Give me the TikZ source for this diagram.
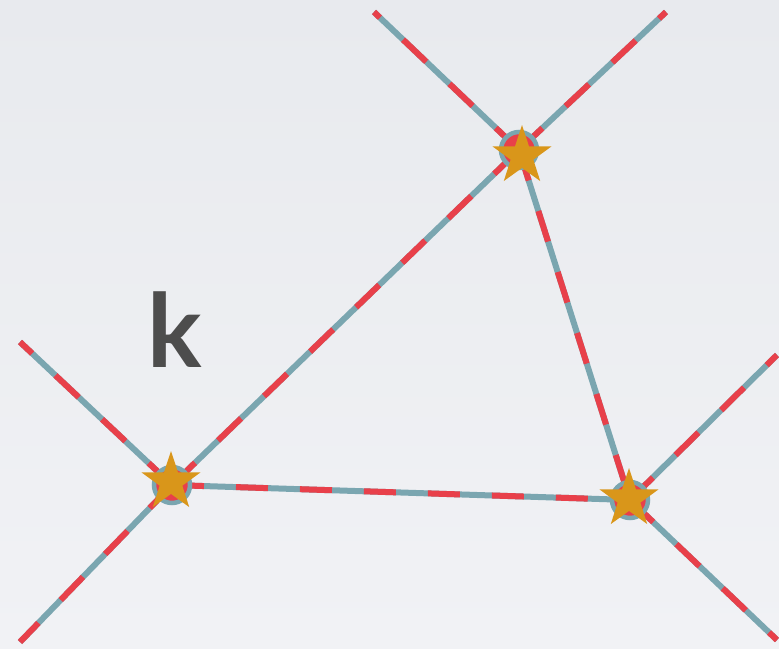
\documentclass[tikz,border=0pt]{standalone}
\usepackage{fontspec}
\setsansfont{Lato}
\usetikzlibrary{shapes.geometric}
\definecolor{edgered}{HTML}{E8404A}
\definecolor{edgeteal}{HTML}{7AA6B0}
\definecolor{starorange}{HTML}{D9961A}
\definecolor{labelgray}{HTML}{4D4D4D}
\definecolor{bgtop}{HTML}{E8EAEE}
\definecolor{bgbottom}{HTML}{F1F2F5}
\begin{document}
\begin{tikzpicture}[x=1pt,y=-1pt]

\tikzset{edgebase/.style={draw=edgeteal, line width=6pt}}
\tikzset{edgedash/.style={draw=edgered, line width=6pt, dash pattern=on 32pt off 32pt}}
\tikzset{vertex/.style={circle, fill=edgered, draw=edgeteal, line width=4.5pt, minimum size=36pt, inner sep=0pt}}
\tikzset{mystar/.style={star, star points=5, star point ratio=2.6, fill=starorange, minimum size=62pt, inner sep=0pt}}

\shade[top color=bgtop, bottom color=bgbottom] (0,0) rectangle (779,648);
\useasboundingbox (0,0) rectangle (779,648);

\coordinate (pa) at (172,485);
\coordinate (pb) at (519,150);
\coordinate (pc) at (630,500);
\coordinate (a1) at (20,342);
\coordinate (a2) at (20,642);
\coordinate (b1) at (374,12);
\coordinate (b2) at (666,12);
\coordinate (c1) at (777,355);
\coordinate (c2) at (777,640);

\foreach \s/\t in {pa/pb, pb/pc, pa/pc, pa/a1, pa/a2, pb/b1, pb/b2, pc/c1, pc/c2}{
  \draw[edgebase] (\s) -- (\t);
  \draw[edgedash] (\s) -- (\t);
}

\node[vertex] (va) at (pa) {};
\node[vertex] (vb) at (pb) {};
\node[vertex] (vc) at (pc) {};
\node[mystar] (sa) at (171,482) {};
\node[mystar] (sb) at (522,156) {};
\node[mystar] (sc) at (629,499) {};

\node[text=labelgray, font=\sffamily\bfseries\fontsize{102}{102}\selectfont] (klabel) at (175,330) {k};

\end{tikzpicture}
\end{document}
